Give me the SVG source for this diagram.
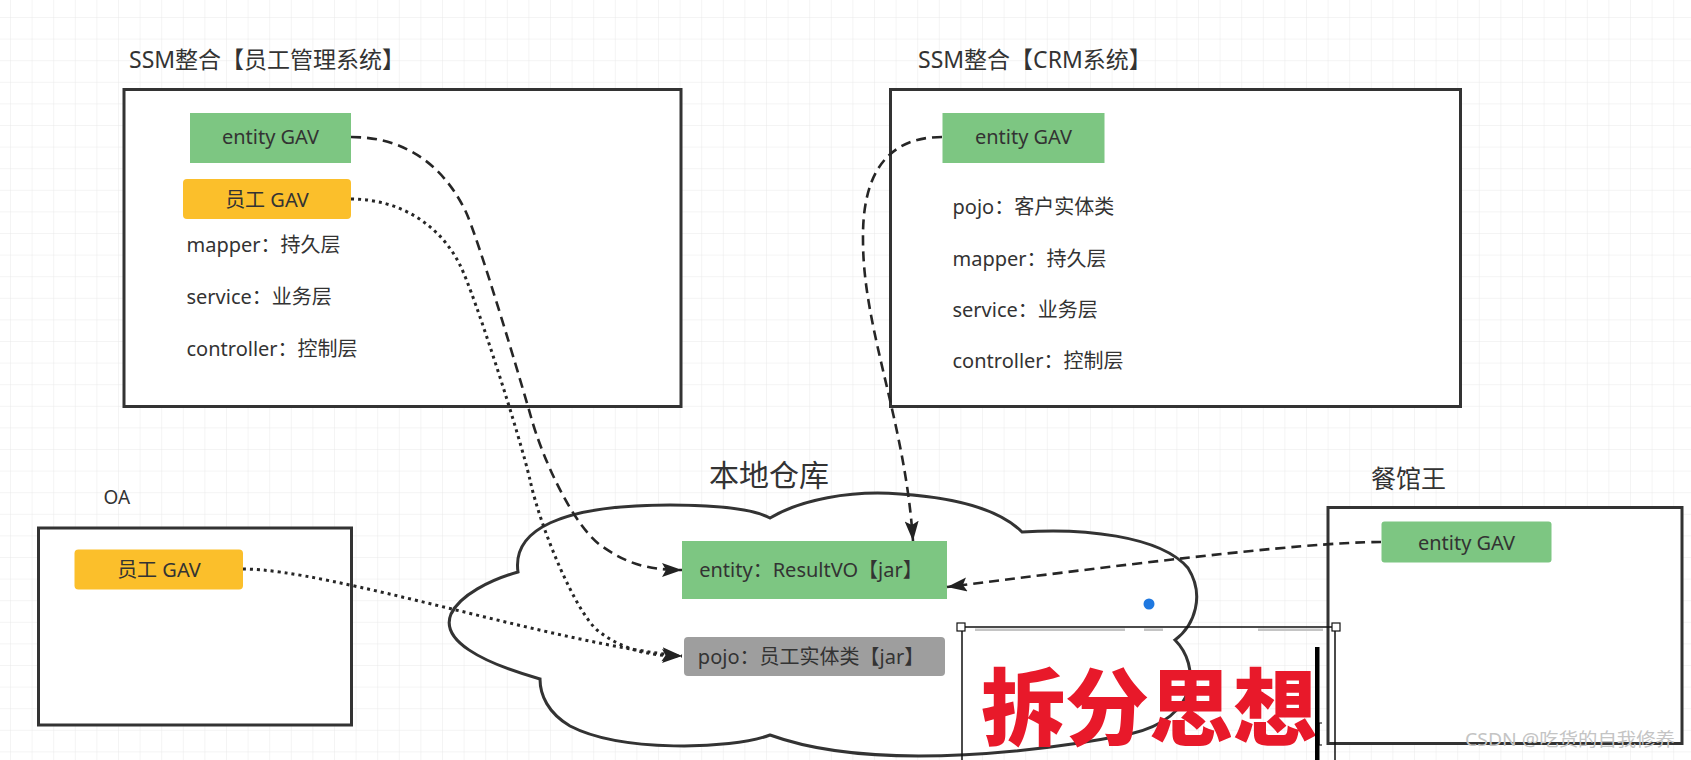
<svg xmlns="http://www.w3.org/2000/svg" width="1691" height="760" viewBox="0 0 1691 760">
  <defs>
    <pattern id="grid" x="10" y="17" width="21.6" height="21.6" patternUnits="userSpaceOnUse">
      <path d="M 0 0 L 21.6 0 M 0 0 L 0 21.6" fill="none" stroke="#e9e9e9" stroke-width="1"/>
    </pattern>
    <marker id="arrow" markerUnits="userSpaceOnUse" markerWidth="22" markerHeight="16" refX="20" refY="7" orient="auto">
      <path d="M0,0 L20,7 L0,14 L4,7 Z" fill="#222"/>
    </marker>
  </defs>
  <style>
    .frame { fill: #fff; stroke: #333; stroke-width: 3; }
    .green { fill: #7dc682; }
    .yellow { fill: #fbbf2b; }
    .gray { fill: #9e9e9e; }
    .t { font-family: "Noto Sans", "Noto Sans CJK SC", sans-serif; fill: #333; }
    .title { font-size: 23px; }
    .lbl { font-size: 20px; }
    .mid { text-anchor: middle; }
    .dash { fill: none; stroke: #262626; stroke-width: 2.6; stroke-dasharray: 10 6; }
    .dot { fill: none; stroke: #262626; stroke-width: 3; stroke-dasharray: 3 4; }
  </style>

  <rect width="1691" height="760" fill="#fff"/>
  <rect width="1691" height="760" fill="url(#grid)"/>

  <g id="ssm-emp">
    <text class="t title" x="129" y="68">SSM整合【员工管理系统】</text>
    <rect class="frame" x="124" y="89.5" width="557" height="317"/>
    <rect class="green" x="190" y="113" width="161" height="50"/>
    <text class="t lbl mid" x="270.5" y="144">entity GAV</text>
    <rect class="yellow" x="183" y="179" width="168" height="40" rx="4"/>
    <text class="t lbl mid" x="267" y="206.5">员工 GAV</text>
    <text class="t lbl" x="186.5" y="252">mapper：持久层</text>
    <text class="t lbl" x="186.5" y="304">service：业务层</text>
    <text class="t lbl" x="186.5" y="356">controller：控制层</text>
  </g>

  <g id="ssm-crm">
    <text class="t title" x="918" y="68">SSM整合【CRM系统】</text>
    <rect class="frame" x="890.5" y="89.5" width="570" height="317"/>
    <rect class="green" x="942.5" y="113" width="162" height="50"/>
    <text class="t lbl mid" x="1023.5" y="144">entity GAV</text>
    <text class="t lbl" x="952.5" y="213.5">pojo：客户实体类</text>
    <text class="t lbl" x="952.5" y="265.5">mapper：持久层</text>
    <text class="t lbl" x="952.5" y="316.5">service：业务层</text>
    <text class="t lbl" x="952.5" y="368">controller：控制层</text>
  </g>

  <g id="oa">
    <text class="t" x="103.5" y="504" font-size="19">OA</text>
    <rect class="frame" x="38.5" y="528" width="313" height="197"/>
    <rect class="yellow" x="74.5" y="549.5" width="168.5" height="40" rx="4"/>
    <text class="t lbl mid" x="159" y="577">员工 GAV</text>
  </g>

  <g id="canguanwang">
    <text class="t" x="1371" y="488" font-size="25">餐馆王</text>
    <rect class="frame" x="1328" y="507.5" width="354" height="236"/>
    <rect class="green" x="1381.5" y="521.5" width="170" height="41" rx="3"/>
    <text class="t lbl mid" x="1466.5" y="549.5">entity GAV</text>
  </g>

  <g id="local-repo">
    <text class="t" x="709" y="486" font-size="30">本地仓库</text>
    <path d="M 518 572 C 512 530, 560 505, 670 505 C 720 505, 755 510, 770 518 C 800 500, 850 490, 900 494 C 960 498, 1000 510, 1022 532 C 1080 528, 1160 535, 1188 568 C 1205 595, 1195 625, 1175 640 C 1200 665, 1200 718, 1130 734 C 1060 748, 880 775, 770 735 C 730 750, 620 752, 570 726 C 548 713, 540 695, 540 679 C 480 662, 440 640, 451 614 C 460 595, 490 580, 518 572 Z" fill="#fff" stroke="#333" stroke-width="3"/>
    <rect class="green" x="682" y="541" width="265" height="58"/>
    <text class="t lbl mid" x="811" y="577">entity：ResultVO【jar】</text>
    <rect class="gray" x="684" y="637" width="261" height="39" rx="4"/>
    <text class="t lbl mid" x="811" y="663.5">pojo：员工实体类【jar】</text>
  </g>

  <g id="connectors">
    <path class="dash" d="M 351 137 C 400 137, 440 160, 465 210 C 477.5 235, 524 392, 531 417 C 542 457, 573 527, 603 547 C 625 562, 645 570, 682 570" marker-end="url(#arrow)"/>
    <path class="dot" d="M 351 199 C 400 199, 440 225, 460 265 C 475 295, 521 440, 530 480 C 541 530, 575 610, 597 630 C 620 648, 645 656, 682 656" marker-end="url(#arrow)"/>
    <path class="dot" d="M 243 569 C 330 569, 560 645, 682 656" marker-end="url(#arrow)"/>
    <path class="dash" d="M 942 137 C 890 137, 862 170, 863 240 C 863 330, 905 420, 913 541" marker-end="url(#arrow)"/>
    <path class="dash" d="M 1381 542 C 1300 542, 1100 568, 947 587" marker-end="url(#arrow)"/>
  </g>

  <g id="split-idea">
    <circle cx="1149" cy="604" r="5.5" fill="#1f78e0"/>
    <g fill="#c4c4c4">
      <rect x="975" y="628.5" width="150" height="2.5"/>
      <rect x="1144" y="628.5" width="19" height="2.5"/>
      <rect x="1258" y="628.5" width="65" height="2.5"/>
    </g>
    <path d="M 961 627 L 1336 627 M 962 627 L 962 760 M 1335 627 L 1335 760" fill="none" stroke="#111" stroke-width="1.5"/>
    <rect x="957" y="623" width="8" height="8" fill="#fff" stroke="#111" stroke-width="1.2"/>
    <rect x="1332" y="623" width="8" height="8" fill="#fff" stroke="#111" stroke-width="1.2"/>
    <text x="981" y="739" font-family="Noto Sans CJK SC, sans-serif" font-size="84" font-weight="900" fill="#e8192a">拆分思想</text>
    <rect x="1315" y="647" width="4.5" height="113" fill="#000"/>
    <path d="M 1316 723 L 1322 723 M 1316 745 L 1322 745 M 1319 723 L 1319 745" fill="none" stroke="#000" stroke-width="1.2"/>
  </g>

  <text class="t" x="1465" y="746" font-size="18" style="fill:#c4c4c4" textLength="210" lengthAdjust="spacingAndGlyphs">CSDN @吃货的自我修养</text>
</svg>
